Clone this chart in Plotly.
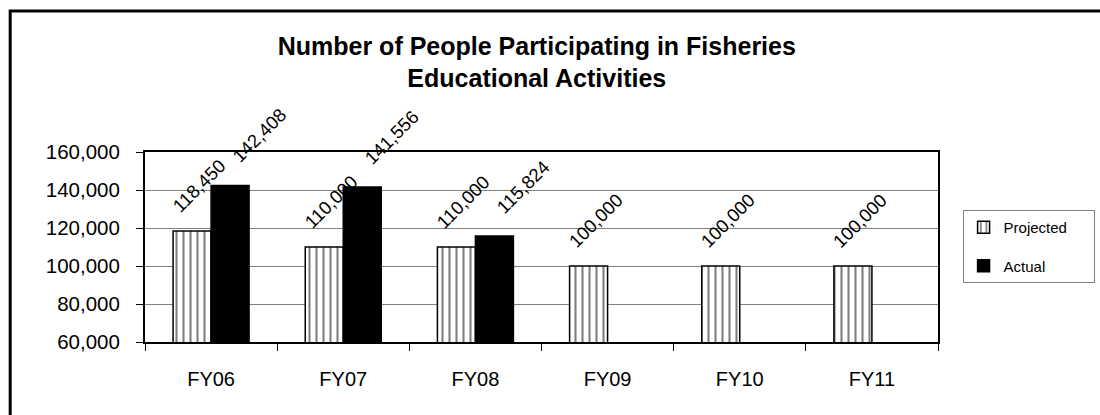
import plotly.graph_objects as go

years = ["FY06", "FY07", "FY08", "FY09", "FY10", "FY11"]
projected = [118450, 110000, 110000, 100000, 100000, 100000]
actual = [142408, 141556, 115824, None, None, None]

FONT = "Arial, Liberation Sans, sans-serif"
PAD = "\u00a0" * 5  # widen the legend box a little, like the original

fig = go.Figure()

fig.add_trace(go.Bar(
    x=years, y=projected, name="Projected" + PAD,
    marker=dict(
        color="white",
        line=dict(color="black", width=1.5),
        pattern=dict(shape="|", fgcolor="black", bgcolor="white", size=7, solidity=0.3),
    ),
    legendgroup="p",
))

fig.add_trace(go.Bar(
    x=years, y=actual, name="Actual",
    marker=dict(color="black", line=dict(color="black", width=1.5)),
    legendgroup="a",
))

# rotated value labels above the bars (Excel style)
for vals, dx, dy in [(projected, -12, 12), (actual, 48, 16)]:
    for yr, v in zip(years, vals):
        if v is None:
            continue
        fig.add_annotation(
            x=yr, y=v, xref="x", yref="y", text=f"{v:,}",
            textangle=-45, showarrow=False,
            xanchor="center", yanchor="bottom", xshift=dx, yshift=dy,
            font=dict(family=FONT, size=18.5, color="black"),
        )

# outer chart border
fig.add_shape(type="rect", xref="paper", yref="paper",
              x0=-0.170, x1=1.25, y0=-0.6, y1=1.742,
              line=dict(color="black", width=3), fillcolor="rgba(0,0,0,0)", layer="below")

fig.update_layout(
    width=1100, height=415,
    paper_bgcolor="white", plot_bgcolor="white",
    font=dict(family=FONT, color="black", size=20),
    margin=dict(l=145, r=162, t=152, b=73, autoexpand=False),
    title=dict(
        text="<b>Number of People Participating in Fisheries<br>Educational Activities</b>",
        x=0.488, xanchor="center", y=0.8675, yanchor="top",
        font=dict(family=FONT, size=25, color="black"),
    ),
    barmode="group", bargap=0.425, bargroupgap=0,
    showlegend=True,
    legend=dict(
        x=1.031, xanchor="left", y=0.695, yanchor="top",
        bordercolor="#808080", borderwidth=1, bgcolor="white",
        font=dict(family=FONT, size=15, color="black"),
        itemwidth=30, tracegroupgap=16, traceorder="grouped",
    ),
)

fig.update_xaxes(
    showline=True, linecolor="black", linewidth=2, mirror=True,
    ticks="outside", tickson="boundaries", ticklen=7, tickcolor="black",
    ticklabelstandoff=18,
    tickfont=dict(family=FONT, size=20, color="black"),
)
fig.update_yaxes(
    range=[60000, 160000], dtick=20000, tickformat=",",
    showline=True, linecolor="black", linewidth=2, mirror=True,
    showgrid=True, gridcolor="#808080", gridwidth=1,
    ticks="outside", ticklen=7, tickcolor="black",
    ticklabelstandoff=12,
    tickfont=dict(family=FONT, size=20.5, color="black"),
)

# drop the default page margin so the figure sits at the window's corner
fig.write_html("out.html", config={"displayModeBar": False},
               post_script="document.body.style.margin='0';")
